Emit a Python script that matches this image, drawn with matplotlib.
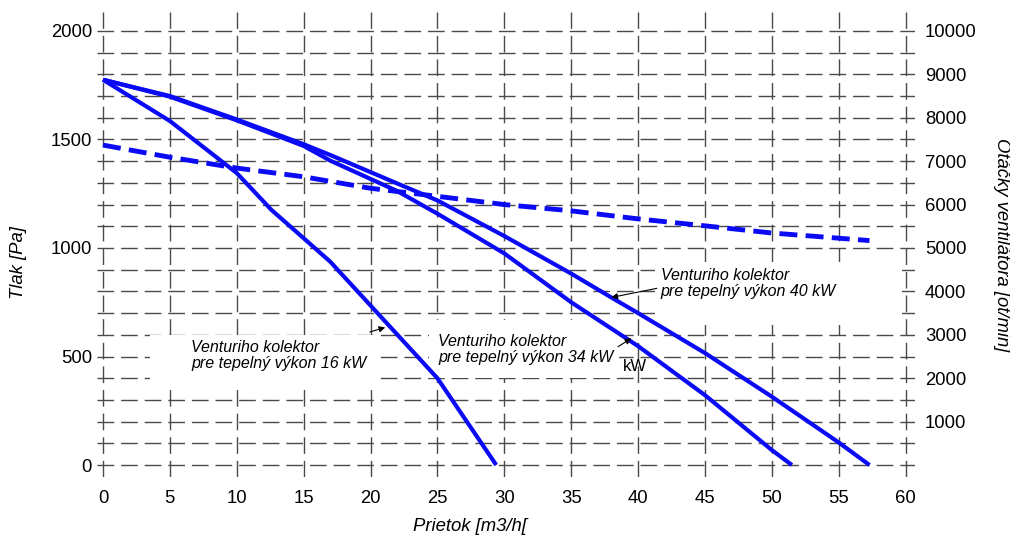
import numpy as np
import matplotlib
matplotlib.use('Agg')
import matplotlib.pyplot as plt
from matplotlib.patches import Rectangle

plt.rcParams['font.family'] = ['Liberation Sans', 'DejaVu Sans']

# =========================
# Data
# =========================
# Venturi collector curves: flow [m3/h] vs pressure [Pa]
flow_16 = [0, 5, 10, 12.6, 15, 17, 20, 25, 29.4]
tlak_16 = [1775, 1585, 1345, 1175, 1045, 936, 735, 400, 0]

flow_34 = [0, 5, 10, 15, 17, 22, 25, 30, 35, 40, 45, 50, 51.5]
tlak_34 = [1775, 1697, 1588, 1470, 1402, 1262, 1158, 975, 750, 548, 322, 69, 0]

flow_40 = [0, 5, 10, 15, 17, 22, 25, 30, 35, 38, 40, 45, 50, 55, 57.3]
tlak_40 = [1775, 1700, 1592, 1478, 1428, 1297, 1219, 1055, 882, 772, 700, 516, 315, 104, 0]

# fan speed (right axis) [ot/min]
flow_n = [0, 5, 10, 15, 20, 25, 30, 35, 40, 45, 50, 57.3]
otacky = [7370, 7090, 6840, 6640, 6375, 6190, 6000, 5855, 5670, 5510, 5345, 5170]

x_ticks = list(range(0, 61, 5))
y_ticks = [0, 500, 1000, 1500, 2000]
y2_ticks = list(range(1000, 10001, 1000))

labels = ['Venturiho kolektor\npre tepelný výkon 16 kW',
          'Venturiho kolektor\npre tepelný výkon 34 kW',
          'Venturiho kolektor\npre tepelný výkon 40 kW']

# =========================
# Figure
# =========================
fig = plt.figure(figsize=(10.1, 5.36), dpi=100)
ax = fig.add_axes([0.0960, 0.1101, 0.8099, 0.8675])

ax.set_xlim(-0.45, 60.7)
ax.set_ylim(-55, 2087)

ax.set_xticks(x_ticks)
ax.set_yticks(y_ticks)
ax.set_yticks(np.arange(0, 2001, 100), minor=True)
ax.set_axisbelow(True)
grid_kw = dict(color='#4a4a4a', lw=1.0, linestyle=(0, (12, 5)))
ax.grid(True, which='both', axis='y', **grid_kw)
ax.grid(True, which='major', axis='x', **grid_kw)
for s in ax.spines.values():
    s.set_visible(False)
ax.tick_params(axis='both', which='both', length=0, labelsize=13.3)
ax.tick_params(axis='x', pad=9.4)
ax.tick_params(axis='y', pad=3.6)

# white label boxes that blank out the grid
for (x0, y0, w, h) in [(3.5, 345, 17.2, 254), (24.4, 400, 14.2, 268), (41.3, 645, 18.4, 290)]:
    ax.add_patch(Rectangle((x0, y0), w, h, facecolor='white', edgecolor='none', zorder=1))

blue = '#0a0af5'
ax.plot(flow_16, tlak_16, color=blue, lw=3, zorder=2, solid_capstyle='butt')
ax.plot(flow_34, tlak_34, color=blue, lw=3, zorder=2, solid_capstyle='butt')
ax.plot(flow_40, tlak_40, color=blue, lw=3, zorder=2, solid_capstyle='butt')

# labels + leader arrows
txt_kw = dict(fontsize=11.5, style='italic', ha='left', va='center', linespacing=1.1, zorder=3)
ax.text(6.6, 504, labels[0], **txt_kw)
ax.text(25.06, 534, labels[1], **txt_kw)
ax.text(41.7, 838, labels[2], **txt_kw)
ax.text(39.8, 453, 'kW', fontsize=12, ha='center', va='center', zorder=3)

arr = dict(arrowstyle='-|>', color='k', lw=0.8, mutation_scale=9, shrinkA=0, shrinkB=0)
ax.annotate('', xy=(21.1, 634), xytext=(19.95, 613), arrowprops=arr)
ax.annotate('', xy=(39.5, 584), xytext=(38.5, 545), arrowprops=arr)
ax.annotate('', xy=(38.0, 772), xytext=(41.4, 814), arrowprops=arr)

ax.set_xlabel('Prietok [m3/h[', fontsize=13.3, style='italic')
ax.xaxis.set_label_coords(0.456, -0.088)
ax.set_ylabel('Tlak [Pa]', fontsize=13.3, style='italic')
ax.yaxis.set_label_coords(-0.0856, 0.462)

# right axis - fan speed
ax2 = ax.twinx()
ax2.set_ylim(-55 * 5, 2087 * 5)
ax2.set_yticks(y2_ticks)
for s in ax2.spines.values():
    s.set_visible(False)
ax2.tick_params(axis='y', length=0, labelsize=13.3, pad=7.2)
ax2.plot(flow_n, otacky, color=blue, lw=3.5, linestyle=(0, (3.7, 1.7)), dash_capstyle='butt')
ax2.set_ylabel('Otáčky ventilátora [ot/min]', fontsize=13.3, style='italic', rotation=-90, va='center')
ax2.yaxis.set_label_coords(1.106, 0.499)

plt.savefig('out.png', dpi=100)
